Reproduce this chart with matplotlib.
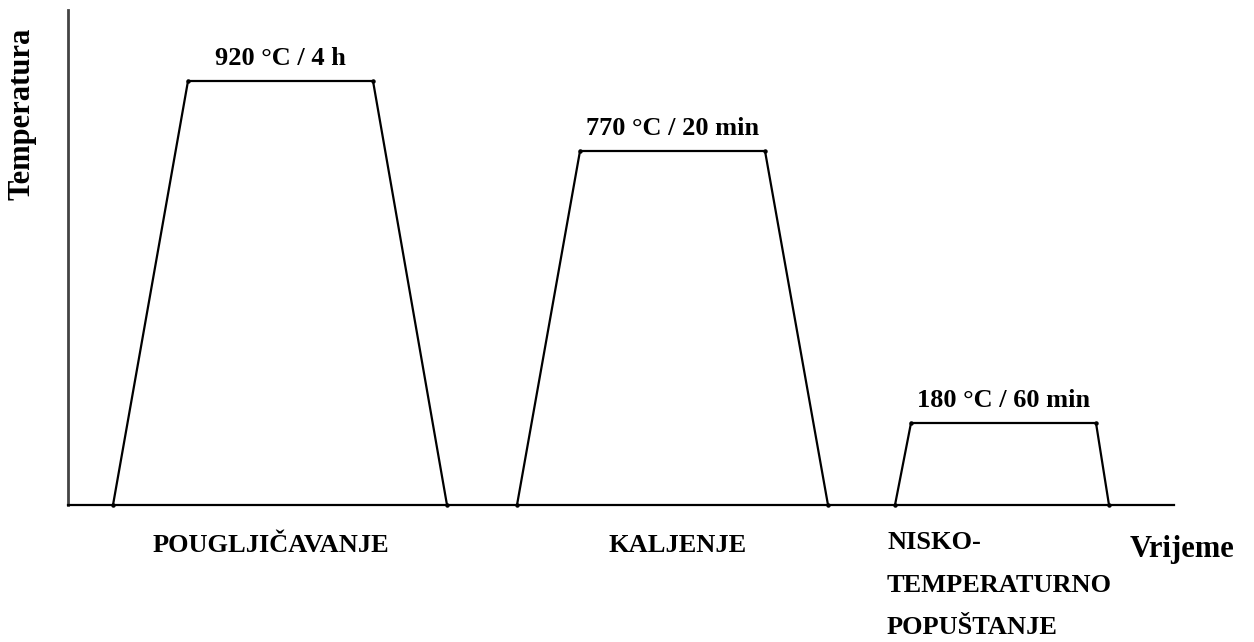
import matplotlib.pyplot as plt

plt.rcParams['font.family'] = ['Liberation Serif', 'DejaVu Serif']

# heat treatment stages: time points and temperature levels (arbitrary units)
stage_names = ["POUGLJIČAVANJE", "KALJENJE", "NISKO-\nTEMPERATURNO\nPOPUŠTANJE"]
stage_labels = ["920 °C / 4 h", "770 °C / 20 min", "180 °C / 60 min"]
stage_times = [
    [45, 120, 305, 379],
    [449, 512, 697, 760],
    [827, 843, 1028, 1041],
]
stage_levels = [424, 354, 82]

fig = plt.figure(figsize=(12.54, 6.42), dpi=100)
ax = fig.add_axes([68 / 1254, 137 / 642, 1106 / 1254, 495 / 642])

for t, lvl in zip(stage_times, stage_levels):
    ax.plot(t, [0, lvl, lvl, 0], color='black', lw=1.6,
            marker='o', markersize=2.2, solid_joinstyle='miter', clip_on=False)

# temperature label above each hold
for t, lvl, lab in zip(stage_times, stage_levels, stage_labels):
    ax.text((t[1] + t[2]) / 2, lvl + 16, lab, ha='center', va='baseline',
            fontsize=19, fontweight='bold')

ax.set_xlim(0, 1106)
ax.set_ylim(0, 495)
ax.set_xticks([])
ax.set_yticks([])
for s in ['top', 'right']:
    ax.spines[s].set_visible(False)
ax.spines['left'].set_color('#444444')
ax.spines['left'].set_linewidth(2.0)
ax.spines['bottom'].set_color('black')
ax.spines['bottom'].set_linewidth(1.6)

# stage names under the time axis
ax.text(203, -47, stage_names[0], ha='center', va='baseline', fontsize=19, fontweight='bold')
ax.text(610, -47, stage_names[1], ha='center', va='baseline', fontsize=19, fontweight='bold')
for i, line in enumerate(stage_names[2].split('\n')):
    ax.text(819, -44 - 42.5 * i, line, ha='left', va='baseline',
            fontsize=19, fontweight='bold')

ax.text(1062, -52, "Vrijeme", ha='left', va='baseline', fontsize=22, fontweight='bold')
ax.text(-46, 391, "Temperatura", rotation=90, ha='center', va='center',
        fontsize=22, fontweight='bold')

fig.savefig('out.png', dpi=100)
